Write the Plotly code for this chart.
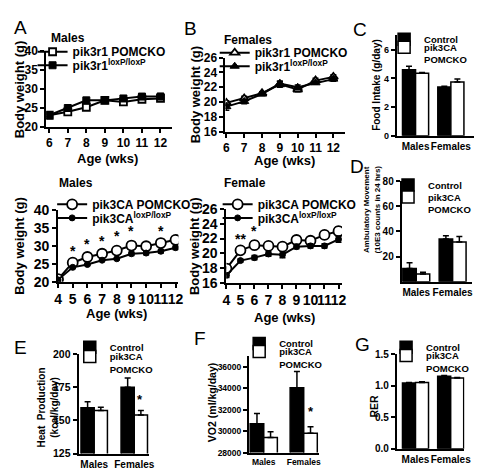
import plotly.graph_objects as go

W, H = 482, 470

# ---------------- DATA ----------------
weeks_a = [6, 7, 8, 9, 10, 11, 12]
a_pomcko = [23.1, 24.0, 25.2, 27.0, 26.6, 27.3, 27.5]
a_pomcko_err = [0.3, 0.4, 0.4, 0.4, 0.5, 0.5, 0.6]
a_lox = [23.1, 25.0, 27.0, 27.0, 27.5, 28.0, 28.0]
a_lox_err = [0.3, 0.3, 0.3, 0.3, 0.7, 0.4, 0.8]

weeks_b = [6, 7, 8, 9, 10, 11, 12]
b_pomcko = [19.9, 20.5, 21.2, 22.4, 21.7, 22.9, 23.4]
b_pomcko_err = [0.3, 0.3, 0.2, 0.4, 0.3, 0.3, 0.3]
b_lox = [19.4, 20.1, 21.1, 22.5, 22.0, 22.6, 23.1]
b_lox_err = [0.5, 0.3, 0.2, 0.3, 0.3, 0.2, 0.3]

weeks_c = [4, 5, 6, 7, 8, 9, 10, 11, 12]
m_pomcko = [20.7, 25.3, 26.9, 27.8, 28.7, 30.1, 29.9, 30.8, 31.7]
m_pomcko_err = [0.3, 0.4, 0.4, 0.4, 0.4, 0.5, 0.5, 0.6, 0.6]
m_lox = [20.5, 24.0, 24.8, 26.0, 26.4, 27.8, 28.0, 28.5, 29.5]
m_lox_err = [0.3, 0.3, 0.3, 0.3, 0.3, 0.5, 0.5, 0.5, 0.5]
m_star_weeks = [5, 6, 7, 8, 9, 11]
m_star_y = [28.6, 30.4, 31.4, 32.9, 34.2, 34.2]

f_pomcko = [17.9, 20.4, 21.1, 21.0, 20.9, 21.8, 21.7, 22.5, 23.0]
f_pomcko_err = [0.3, 0.4, 0.6, 0.5, 0.4, 0.5, 0.5, 0.5, 0.6]
f_lox = [17.0, 19.0, 19.4, 19.9, 19.8, 20.9, 21.0, 21.0, 21.9]
f_lox_err = [0.3, 0.2, 0.3, 0.3, 0.4, 0.3, 0.3, 0.3, 0.4]
f_star_weeks = [5, 6]
f_star_text = ["**", "*"]
f_star_y = [22.0, 23.0]

sexes = ["Males", "Females"]
food_ctrl = [4.6, 3.4]
food_ctrl_err = [0.25, 0.05]
food_ko = [4.35, 3.75]
food_ko_err = [0.06, 0.2]

amb_ctrl = [10.5, 34.0]
amb_ctrl_err = [4.5, 2.5]
amb_ko = [6.0, 31.5]
amb_ko_err = [1.5, 4.5]

heat_ctrl = [159.5, 175.0]
heat_ctrl_err = [4.5, 7.0]
heat_ko = [157.5, 154.0]
heat_ko_err = [2.5, 3.5]
heat_star = 165.5

vo2_ctrl = [30700, 34050]
vo2_ctrl_err = [950, 1500]
vo2_ko = [29400, 29800]
vo2_ko_err = [550, 600]
vo2_star = 31800

rer_ctrl = [1.04, 1.15]
rer_ctrl_err = [0.01, 0.01]
rer_ko = [1.05, 1.12]
rer_ko_err = [0.01, 0.01]

# ---------------- LAYOUT HELPERS ----------------
FONT = "Liberation Sans"


def px(x):
    return x / W


def py(y):
    return 1 - y / H


def dx(a, b):
    return [px(a), px(b)]


def dy(top, bottom):
    return [py(bottom), py(top)]


fig = go.Figure()

axis_common = dict(
    showline=True, linecolor="black", linewidth=2, ticks="outside",
    ticklen=4, tickwidth=2, tickcolor="black", showgrid=False, zeroline=False,
    mirror=False,
)


def tfont(size):
    return dict(family=FONT, size=size, color="black", weight="bold")


layout = dict(
    width=W, height=H, margin=dict(l=0, r=0, t=0, b=0),
    paper_bgcolor="white", plot_bgcolor="white", showlegend=True,
    barmode="overlay",
)

panels = {
    1: dict(xd=(35, 163), yd=(36, 115), xr=[5.84, 12.6], yr=[20, 40], yt=[20, 25, 30, 35, 40], xt=weeks_a, fs=12, xfs=12),
    2: dict(xd=(218, 340), yd=(43, 120), xr=[5.95, 12.65], yr=[16, 26], yt=[16, 18, 20, 22, 24, 26], xt=weeks_b, fs=12, xfs=12),
    3: dict(xd=(393, 477), yd=(20, 124), xr=[-0.53, 1.8], yr=[0, 7], yt=[0, 2, 4, 6], xt=None, fs=9, xfs=10),
    4: dict(xd=(47, 170), yd=(201, 275), xr=[4, 12.2], yr=[20, 40], yt=[20, 25, 30, 35, 40], xt=weeks_c, fs=14, xfs=14),
    5: dict(xd=(219, 337), yd=(200, 276), xr=[4, 12.25], yr=[16, 26], yt=[16, 18, 20, 22, 24, 26], xt=weeks_c, fs=14, xfs=14),
    6: dict(xd=(398, 470), yd=(171, 275), xr=[-0.4, 1.54], yr=[0, 80], yt=[20, 40, 60, 80], xt=None, fs=10, xfs=10),
    7: dict(xd=(68, 140), yd=(350, 453), xr=[-0.39, 1.37], yr=[125, 200], yt=[125, 150, 175, 200], xt=None, fs=10.5, xfs=10),
    8: dict(xd=(242, 313), yd=(352, 452), xr=[-0.37, 1.37], yr=[28000, 37000], yt=[28000, 30000, 32000, 34000, 36000], xt=None, fs=8.5, xfs=8.5),
    9: dict(xd=(393, 462), yd=(350, 448), xr=[-0.53, 1.39], yr=[0, 1.5], yt=[0, 0.5, 1.0, 1.5], xt=None, fs=10, xfs=10),
}

for k, p in panels.items():
    xn = "xaxis" if k == 1 else f"xaxis{k}"
    yn = "yaxis" if k == 1 else f"yaxis{k}"
    xa = dict(axis_common, domain=dx(*p["xd"]), range=p["xr"], anchor="y" if k == 1 else f"y{k}",
              tickfont=tfont(p["xfs"]), tickangle=0)
    if p["xt"] is not None:
        xa.update(tickmode="array", tickvals=p["xt"], ticktext=[str(v) for v in p["xt"]])
    else:
        xa.update(type="category", ticks="", categoryorder="array", categoryarray=sexes, ticklen=0)
    ya = dict(axis_common, domain=dy(*p["yd"]), range=p["yr"], anchor="x" if k == 1 else f"x{k}",
              tickmode="array", tickvals=p["yt"], tickfont=tfont(p["fs"]))
    if k == 8:
        ya["tickformat"] = "d"
    if k == 9:
        ya["tickformat"] = ".1f"
    layout[xn] = xa
    layout[yn] = ya


def ax(k):
    return ("x", "y") if k == 1 else (f"x{k}", f"y{k}")


legend_count = [0]


def new_legend(xpx, ypx, size, valign="middle"):
    legend_count[0] += 1
    n = legend_count[0]
    name = "legend" if n == 1 else f"legend{n}"
    layout[name] = dict(x=px(xpx), y=py(ypx), xanchor="left", yanchor="middle",
                        bgcolor="rgba(0,0,0,0)", font=tfont(size), itemwidth=30,
                        tracegroupgap=0, valign=valign)
    return name


def line_pair(k, xs, y1, e1, y2, e2, name1, name2, sym_open, sym_fill, s_open, s_fill, leg1, leg2):
    xa, ya = ax(k)
    fig.add_trace(go.Scatter(
        x=xs, y=y1, mode="lines+markers", name=name1, xaxis=xa, yaxis=ya,
        line=dict(color="black", width=2),
        marker=dict(symbol=sym_open, size=s_open, color="white", line=dict(color="black", width=1.8)),
        error_y=dict(type="data", array=e1, color="black", thickness=1.5, width=3),
        legend=new_legend(*leg1)))
    fig.add_trace(go.Scatter(
        x=xs, y=y2, mode="lines+markers", name=name2, xaxis=xa, yaxis=ya,
        line=dict(color="black", width=2),
        marker=dict(symbol=sym_fill, size=s_fill, color="black", line=dict(color="black", width=1)),
        error_y=dict(type="data", array=e2, color="black", thickness=1.5, width=3),
        legend=new_legend(*leg2)))


line_pair(1, weeks_a, a_pomcko, a_pomcko_err, a_lox, a_lox_err,
          "pik3r1 POMCKO", "pik3r1<sup>loxP/loxP</sup>", "square", "square", 7, 7,
          (21, 37, 12), (21, 51, 12))
line_pair(2, weeks_b, b_pomcko, b_pomcko_err, b_lox, b_lox_err,
          "pik3r1 POMCKO", "pik3r1<sup>loxP/loxP</sup>", "triangle-up", "triangle-up", 8, 8,
          (207, 38, 12), (207, 52, 12))
line_pair(4, weeks_c, m_pomcko, m_pomcko_err, m_lox, m_lox_err,
          "pik3CA POMCKO", "pik3CA<sup>loxP/loxP</sup>", "circle", "circle", 10, 6,
          (41, 195, 12), (41, 209, 12))
line_pair(5, weeks_c, f_pomcko, f_pomcko_err, f_lox, f_lox_err,
          "pik3CA POMCKO", "pik3CA<sup>loxP/loxP</sup>", "circle", "circle", 10, 6,
          (210, 195, 12), (210, 209, 12))


def bar_pair(k, ctrl, ctrl_err, ko, ko_err, leg1, leg2, bw):
    xa, ya = ax(k)
    fig.add_trace(go.Bar(
        x=sexes, y=ctrl, name="Control", xaxis=xa, yaxis=ya, width=bw, offset=-bw,
        marker=dict(color="black", line=dict(color="black", width=1.5)),
        error_y=dict(type="data", symmetric=False, array=ctrl_err, arrayminus=[0] * len(ctrl),
                     color="black", thickness=1.5, width=3),
        legend=new_legend(*leg1)))
    fig.add_trace(go.Bar(
        x=sexes, y=ko, name="pik3CA<br>POMCKO", xaxis=xa, yaxis=ya, width=bw, offset=0,
        marker=dict(color="white", line=dict(color="black", width=1.5)),
        error_y=dict(type="data", symmetric=False, array=ko_err, arrayminus=[0] * len(ko),
                     color="black", thickness=1.5, width=3),
        legend=new_legend(*leg2, valign="top")))


bar_pair(3, food_ctrl, food_ctrl_err, food_ko, food_ko_err, (380, 24, 9.5), (380, 39, 9.5), 0.37)
bar_pair(6, amb_ctrl, amb_ctrl_err, amb_ko, amb_ko_err, (384, 175, 9.5), (384, 194, 9.5), 0.37)
bar_pair(7, heat_ctrl, heat_ctrl_err, heat_ko, heat_ko_err, (59, 343, 9.5), (59, 359, 9.5), 0.33)
bar_pair(8, vo2_ctrl, vo2_ctrl_err, vo2_ko, vo2_ko_err, (232, 339, 9.5), (232, 354, 9.5), 0.34)
bar_pair(9, rer_ctrl, rer_ctrl_err, rer_ko, rer_ko_err, (382, 343, 9.5), (382, 358, 9.5), 0.37)

ann = []


def text_ann(t, x, y, size, bold=True, angle=0, xanchor="center"):
    f = tfont(size) if bold else dict(family=FONT, size=size, color="black")
    ann.append(dict(text=t, x=px(x), y=py(y), xref="paper", yref="paper", showarrow=False,
                    font=f, textangle=angle, xanchor=xanchor, yanchor="middle"))


# panel letters
for letter, (x, y) in {"A": (9, 12), "B": (182, 13), "C": (355, 14), "D": (352, 156),
                       "E": (9, 343), "F": (192, 334), "G": (358, 340)}.items():
    text_ann(letter, x, y, 19, bold=False)

# panel titles
text_ann("Males", 38, 23, 12, xanchor="left")
text_ann("Females", 214, 25, 12, xanchor="left")
text_ann("Males", 46, 173, 12, xanchor="left")
text_ann("Female", 214, 173, 12, xanchor="left")

# axis titles
text_ann("Body weight (g)", 8, 76, 13, angle=-90)
text_ann("Body weight (g)", 187, 81, 13, angle=-90)
text_ann("Body weight (g)", 8, 238, 13, angle=-90)
text_ann("Body weight (g)", 187, 238, 13, angle=-90)
text_ann("Age (wks)", 98, 148, 13)
text_ann("Age (wks)", 278, 150, 13)
text_ann("Age (wks)", 107, 308, 13)
text_ann("Age (wks)", 278, 312, 13)
text_ann("Food Intake (g/day)", 372, 71, 10, angle=-90)
text_ann("Ambulatory Movement<br>(10E3 counts in 24 hrs)", 367, 200, 8, angle=-90)
text_ann("Heat  Production<br>(kcal/kg/day)", 37, 405, 10, angle=-90)
text_ann("VO2 (ml/kg/day)", 205, 400, 10.5, angle=-90)
text_ann("RER", 370, 404, 10.5, angle=-90)

# significance stars
for w, yv in zip(m_star_weeks, m_star_y):
    ann.append(dict(text="*", x=w, y=yv, xref="x4", yref="y4", showarrow=False,
                    font=tfont(14), yanchor="middle"))
for w, t, yv in zip(f_star_weeks, f_star_text, f_star_y):
    ann.append(dict(text=t, x=w, y=yv, xref="x5", yref="y5", showarrow=False,
                    font=tfont(14), yanchor="middle"))
ann.append(dict(text="*", x="Females", y=heat_star, xref="x7", yref="y7", showarrow=False,
                font=tfont(13), xshift=6, yanchor="middle"))
ann.append(dict(text="*", x="Females", y=vo2_star, xref="x8", yref="y8", showarrow=False,
                font=tfont(13), xshift=7, yanchor="middle"))

layout["annotations"] = ann
fig.update_layout(**layout)
fig.write_html("out.html")
